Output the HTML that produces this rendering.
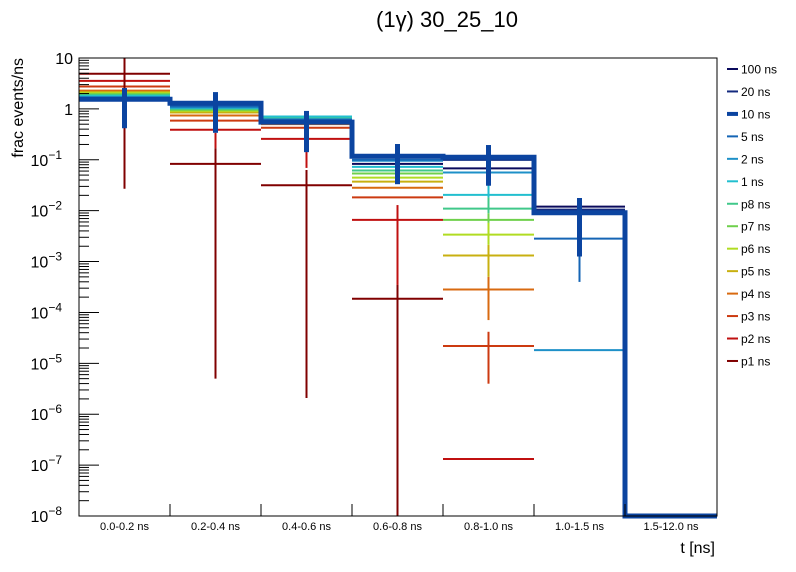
<!DOCTYPE html>
<html><head><meta charset="utf-8"><style>
body{margin:0;background:#fff;}
svg{display:block;font-family:"Liberation Sans",sans-serif;}
</style></head><body>
<svg id="chart" width="796" height="572" xmlns="http://www.w3.org/2000/svg">
<rect width="796" height="572" fill="#fff"/>
<text x="447" y="27" font-size="22" text-anchor="middle">(1γ) 30_25_10</text>
<text transform="translate(23,58) rotate(-90)" font-size="16" text-anchor="end">frac events/ns</text>
<text x="715" y="553" font-size="16" text-anchor="end">t [ns]</text>
<g id="plot"></g>
<g id="axes"></g>
<g id="legend"></g>
</svg>
<script>
const categories = ["0.0-0.2 ns","0.2-0.4 ns","0.4-0.6 ns","0.6-0.8 ns","0.8-1.0 ns","1.0-1.5 ns","1.5-12.0 ns"];
const seriesNames = ["100 ns","20 ns","10 ns","5 ns","2 ns","1 ns","p8 ns","p7 ns","p6 ns","p5 ns","p4 ns","p3 ns","p2 ns","p1 ns"];
const seriesColors = ["#0a0a5c","#142a7e","#0b44a0","#1565b5","#1e90c8","#22bfcf","#40c88a","#6fd04c","#b0dc22","#c8b010","#d86a10","#cc3a10","#c01010","#800000"];
// log10 values per series per bin (null = empty)
const v100 = [0.19,0.10,-0.25,-1.08,-1.17,-1.92,null];
const v20  = [0.20,0.10,-0.25,-0.95,-1.00,-1.98,null];
const v10  = [0.19,0.11,-0.26,-0.93,-0.95,-2.04,-8.0];
const v5   = [0.21,0.05,-0.22,-1.00,-1.00,-2.55,null];
const v2   = [0.23,0.03,-0.20,-1.02,-1.25,-4.74,null];
const v1   = [0.25,0.02,-0.15,-1.14,-1.69,null,null];
const vp8  = [0.27,0.00,-0.16,-1.21,-1.96,null,null];
const vp7  = [0.29,-0.02,-0.17,-1.27,-2.18,null,null];
const vp6  = [0.31,-0.04,-0.19,-1.35,-2.47,null,null];
const vp5  = [0.33,-0.07,-0.21,-1.43,-2.88,null,null];
const vp4  = [0.36,-0.13,-0.30,-1.55,-3.55,null,null];
const vp3  = [0.44,-0.23,-0.37,-1.74,-4.66,null,null];
const vp2  = [0.55,-0.41,-0.59,-2.18,-6.88,null,null];
const vp1  = [0.69,-1.08,-1.50,-3.73,null,null,null];
const seriesValues = [v100,v20,v10,v5,v2,v1,vp8,vp7,vp6,vp5,vp4,vp3,vp2,vp1];
// error bars: [seriesIndex, bin, logHigh, logLow]
const errSeries = [13,13,13,13,12,12,12,11,10,9,8,7,6,5,3,2,2,2,2,2,2];
const errBins   = [0,1,2,3,1,2,3,4,4,4,4,4,4,4,5,0,1,2,3,4,5];
const errHigh   = [1.0,-0.77,-1.2,-3.46,-0.47,-0.81,-1.89,-4.38,-3.3,-2.67,-2.24,-2.05,-1.74,-1.49,-2.2,0.41,0.33,-0.04,-0.69,-0.71,-1.75];
const errLow    = [-1.57,-5.3,-5.68,-9,-0.77,-1.16,-3.46,-5.4,-4.15,-3.3,-2.67,-2.24,-2.05,-1.74,-3.4,-0.38,-0.47,-0.85,-1.48,-1.51,-2.9];
const yTickExp = [1,0,-1,-2,-3,-4,-5,-6,-7,-8];

const X0=79,X1=717,Y0=58,Y1=516,LMAX=1,LMIN=-8;
const binEdges=[79,170,261,352,443,534,625,717];
function xL(i){return binEdges[i];}
function xR(i){return binEdges[i+1];}
function xC(i){return (binEdges[i]+binEdges[i+1])/2;}
function y(l){l=Math.max(LMIN,Math.min(LMAX,l));return Y0+(LMAX-l)*(Y1-Y0)/(LMAX-LMIN);}
const NS="http://www.w3.org/2000/svg";
function mk(tag,attrs,parent){const e=document.createElementNS(NS,tag);for(const k in attrs)e.setAttribute(k,attrs[k]);parent.appendChild(e);return e;}
const plot=document.getElementById('plot'),axes=document.getElementById('axes'),legend=document.getElementById('legend');

// horizontal segments (draw from p1 up, 10ns last)
const order=[13,12,11,10,9,8,7,6,5,4,3,1,0];
order.forEach(s=>{
  seriesValues[s].forEach((v,b)=>{
    if(v===null)return;
    const l=mk('line',{x1:xL(b),x2:xR(b),y1:y(v),y2:y(v),stroke:seriesColors[s],'stroke-width':2},plot);
    
    
  });
});
// error bars
errSeries.forEach((s,k)=>{
  const w=s===2?5:2;
  const l=mk('line',{x1:xC(errBins[k]),x2:xC(errBins[k]),y1:y(errHigh[k]),y2:y(errLow[k]),stroke:seriesColors[s],'stroke-width':w},plot);
  
  
});
// 10 ns step line
let d='';
v10.forEach((v,b)=>{d+=(b===0?'M':'L')+xL(b)+','+y(v)+' L'+xR(b)+','+y(v)+' ';});
const step=mk('path',{d:d,fill:'none',stroke:seriesColors[2],'stroke-width':5},plot);


const drop=mk('line',{x1:625,x2:625,y1:y(v10[5]),y2:Y1,stroke:seriesColors[2],'stroke-width':5},plot);



// frame
const fr=mk('rect',{x:X0,y:Y0,width:X1-X0,height:Y1-Y0,fill:'none',stroke:'#000','stroke-width':1},axes);


// y ticks
yTickExp.forEach(e=>{
  const yy=y(e);
  const t=mk('line',{x1:X0,x2:X0+20,y1:yy,y2:yy,stroke:'#000'},axes);
  
  
  const tx=mk('text',{x:73,y:yy+6,'font-size':16,'text-anchor':'end'},axes);
  
  
  if(e===1)tx.textContent='10';else if(e===0)tx.textContent='1';
  else{tx.setAttribute('x',62);tx.textContent='10';const sp=mk('tspan',{dy:-7,'font-size':12},tx);sp.textContent=String(e).replace('-','−');}
  if(e>LMIN){for(let m=2;m<=9;m++){const ym=y(e-1+Math.log10(m));const mt=mk('line',{x1:X0,x2:X0+10,y1:ym,y2:ym,stroke:'#000'},axes);
    
    }}
});
// x labels/ticks
categories.forEach((c,i)=>{
  const t=mk('text',{x:xC(i),y:530,'font-size':11,'text-anchor':'middle'},axes);
  t.textContent=c;
  
  
  if(i>0){const tk=mk('line',{x1:xL(i),x2:xL(i),y1:Y1,y2:Y1-12,stroke:'#000'},axes);
    
    }
});
// legend
seriesNames.forEach((n,i)=>{
  const yy=69+i*22.46;
  const g=mk('g',{},legend);
  
  
  mk('line',{x1:727,x2:738,y1:yy,y2:yy,stroke:seriesColors[i],'stroke-width':i===2?4:2},g);
  const t=mk('text',{x:741,y:yy+4.5,'font-size':12},g);t.textContent=n;
});
</script>
</body></html>
